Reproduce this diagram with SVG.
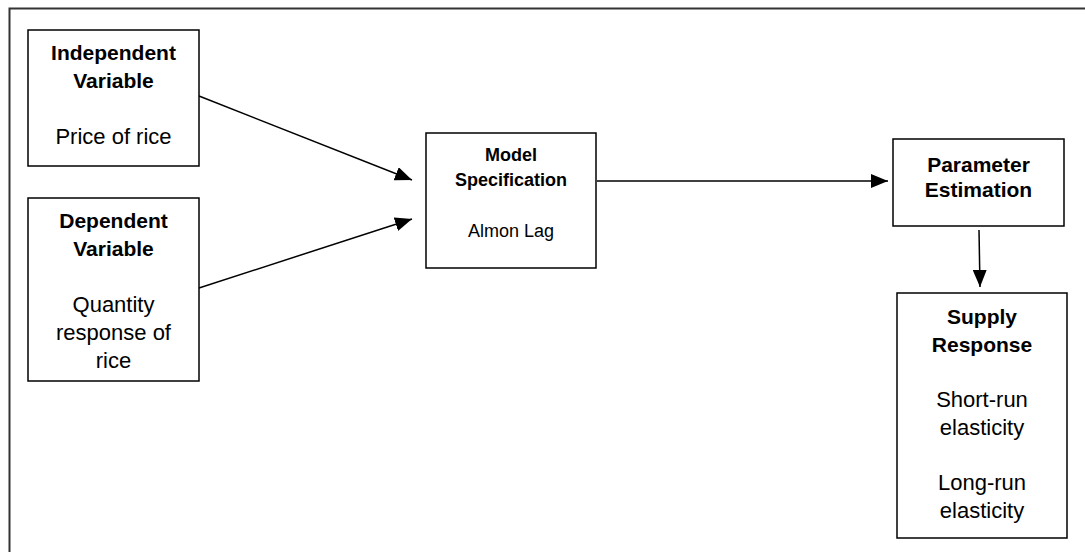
<svg xmlns="http://www.w3.org/2000/svg" width="1085" height="552" viewBox="0 0 1085 552">
  <style>
    .box { fill: #ffffff; stroke: #000000; stroke-width: 1.5; }
    .frame { fill: none; stroke: #333333; stroke-width: 2; }
    .conn { fill: none; stroke: #000000; stroke-width: 1.5; }
    .b { font-family: "Liberation Sans", Arial, sans-serif; font-weight: bold; font-size: 21px; fill: #000; text-anchor: middle; }
    .r { font-family: "Liberation Sans", Arial, sans-serif; font-size: 22px; fill: #000; text-anchor: middle; }
    .bs { font-family: "Liberation Sans", Arial, sans-serif; font-weight: bold; font-size: 18px; fill: #000; text-anchor: middle; }
    .rs { font-family: "Liberation Sans", Arial, sans-serif; font-size: 18px; fill: #000; text-anchor: middle; }
  </style>
  <defs>
    <marker id="arrow" markerUnits="userSpaceOnUse" markerWidth="18" markerHeight="14" refX="17" refY="7" orient="auto">
      <path d="M0,0 L17,7 L0,14 z" fill="#000000"/>
    </marker>
  </defs>
  <rect x="0" y="0" width="1085" height="552" fill="#ffffff"/>
  <path class="frame" d="M9.5,552 V8.5 H1085"/>

  <g id="connectors">
    <line class="conn" x1="199" y1="96" x2="412" y2="180" marker-end="url(#arrow)"/>
    <line class="conn" x1="199" y1="288" x2="412" y2="219" marker-end="url(#arrow)"/>
    <line class="conn" x1="597" y1="181" x2="888" y2="181" marker-end="url(#arrow)"/>
    <line class="conn" x1="979" y1="230" x2="980" y2="287" marker-end="url(#arrow)"/>
  </g>

  <g id="independent">
    <rect class="box" x="28" y="30" width="171" height="136"/>
    <text class="b" x="113.5" y="60">Independent</text>
    <text class="b" x="113.5" y="88">Variable</text>
    <text class="r" x="113.5" y="144">Price of rice</text>
  </g>

  <g id="dependent">
    <rect class="box" x="28" y="198" width="171" height="183"/>
    <text class="b" x="113.5" y="228">Dependent</text>
    <text class="b" x="113.5" y="256">Variable</text>
    <text class="r" x="113.5" y="312">Quantity</text>
    <text class="r" x="113.5" y="340">response of</text>
    <text class="r" x="113.5" y="368">rice</text>
  </g>

  <g id="model">
    <rect class="box" x="426" y="133" width="170" height="135"/>
    <text class="bs" x="511" y="161">Model</text>
    <text class="bs" x="511" y="186">Specification</text>
    <text class="rs" x="511" y="237">Almon Lag</text>
  </g>

  <g id="parameter">
    <rect class="box" x="893" y="139" width="171" height="87"/>
    <text class="b" x="978.5" y="172">Parameter</text>
    <text class="b" x="978.5" y="197">Estimation</text>
  </g>

  <g id="supply">
    <rect class="box" x="897" y="293" width="170" height="245"/>
    <text class="b" x="982" y="324">Supply</text>
    <text class="b" x="982" y="352">Response</text>
    <text class="r" x="982" y="407">Short-run</text>
    <text class="r" x="982" y="435">elasticity</text>
    <text class="r" x="982" y="490">Long-run</text>
    <text class="r" x="982" y="518">elasticity</text>
  </g>
</svg>
